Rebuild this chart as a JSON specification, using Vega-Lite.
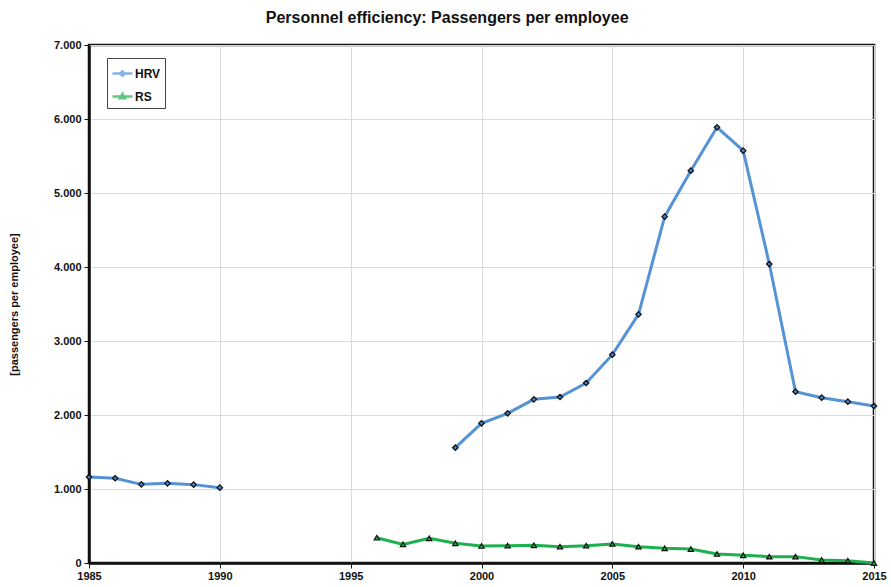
{
  "$schema": "https://vega.github.io/schema/vega-lite/v6.json",
  "width": 785,
  "height": 518,
  "autosize": {"type": "none"},
  "padding": {"left": 89, "top": 45, "right": 17, "bottom": 24},
  "background": "white",
  "title": {
    "text": "Personnel efficiency: Passengers per employee",
    "font": "Liberation Sans",
    "fontSize": 16,
    "fontWeight": "bold",
    "color": "#111",
    "anchor": "middle",
    "frame": "bounds",
    "offset": 13
  },
  "data": {
    "values": [
      {"year": 1985, "value": 1162, "series": "HRV", "seg": "a"},
      {"year": 1986, "value": 1145, "series": "HRV", "seg": "a"},
      {"year": 1987, "value": 1063, "series": "HRV", "seg": "a"},
      {"year": 1988, "value": 1077, "series": "HRV", "seg": "a"},
      {"year": 1989, "value": 1059, "series": "HRV", "seg": "a"},
      {"year": 1990, "value": 1018, "series": "HRV", "seg": "a"},
      {"year": 1999, "value": 1558, "series": "HRV", "seg": "b"},
      {"year": 2000, "value": 1888, "series": "HRV", "seg": "b"},
      {"year": 2001, "value": 2023, "series": "HRV", "seg": "b"},
      {"year": 2002, "value": 2212, "series": "HRV", "seg": "b"},
      {"year": 2003, "value": 2243, "series": "HRV", "seg": "b"},
      {"year": 2004, "value": 2432, "series": "HRV", "seg": "b"},
      {"year": 2005, "value": 2815, "series": "HRV", "seg": "b"},
      {"year": 2006, "value": 3360, "series": "HRV", "seg": "b"},
      {"year": 2007, "value": 4680, "series": "HRV", "seg": "b"},
      {"year": 2008, "value": 5302, "series": "HRV", "seg": "b"},
      {"year": 2009, "value": 5888, "series": "HRV", "seg": "b"},
      {"year": 2010, "value": 5572, "series": "HRV", "seg": "b"},
      {"year": 2011, "value": 4040, "series": "HRV", "seg": "b"},
      {"year": 2012, "value": 2315, "series": "HRV", "seg": "b"},
      {"year": 2013, "value": 2234, "series": "HRV", "seg": "b"},
      {"year": 2014, "value": 2180, "series": "HRV", "seg": "b"},
      {"year": 2015, "value": 2122, "series": "HRV", "seg": "b"},
      {"year": 1996, "value": 342, "series": "RS", "seg": "c"},
      {"year": 1997, "value": 252, "series": "RS", "seg": "c"},
      {"year": 1998, "value": 333, "series": "RS", "seg": "c"},
      {"year": 1999, "value": 266, "series": "RS", "seg": "c"},
      {"year": 2000, "value": 230, "series": "RS", "seg": "c"},
      {"year": 2001, "value": 234, "series": "RS", "seg": "c"},
      {"year": 2002, "value": 239, "series": "RS", "seg": "c"},
      {"year": 2003, "value": 221, "series": "RS", "seg": "c"},
      {"year": 2004, "value": 234, "series": "RS", "seg": "c"},
      {"year": 2005, "value": 258, "series": "RS", "seg": "c"},
      {"year": 2006, "value": 221, "series": "RS", "seg": "c"},
      {"year": 2007, "value": 198, "series": "RS", "seg": "c"},
      {"year": 2008, "value": 189, "series": "RS", "seg": "c"},
      {"year": 2009, "value": 122, "series": "RS", "seg": "c"},
      {"year": 2010, "value": 104, "series": "RS", "seg": "c"},
      {"year": 2011, "value": 86, "series": "RS", "seg": "c"},
      {"year": 2012, "value": 86, "series": "RS", "seg": "c"},
      {"year": 2013, "value": 41, "series": "RS", "seg": "c"},
      {"year": 2014, "value": 32, "series": "RS", "seg": "c"},
      {"year": 2015, "value": 0, "series": "RS", "seg": "c"}
    ]
  },
  "encoding": {
    "x": {
      "field": "year",
      "type": "quantitative",
      "scale": {"domain": [1985, 2015], "nice": false, "zero": false},
      "axis": {
        "title": null,
        "values": [1985, 1990, 1995, 2000, 2005, 2010, 2015],
        "format": "d",
        "labelFlush": false,
        "labelOverlap": false,
        "labelPadding": 2
      }
    },
    "y": {
      "field": "value",
      "type": "quantitative",
      "scale": {"domain": [0, 7000], "nice": false},
      "axis": {
        "title": "[passengers per employee]",
        "titleFont": "Liberation Sans",
        "titleFontSize": 11,
        "titleFontWeight": "bold",
        "titleColor": "#111",
        "titleX": -75,
        "titleY": 259,
        "titleAlign": "center",
        "titleBaseline": "middle",
        "titleAngle": -90,
        "values": [0, 1000, 2000, 3000, 4000, 5000, 6000, 7000],
        "labelExpr": "replace(format(datum.value, ','), ',', '.')",
        "labelPadding": 3
      }
    }
  },
  "layer": [
    {
      "mark": {"type": "line", "strokeWidth": 3},
      "encoding": {
        "color": {
          "field": "series",
          "type": "nominal",
          "scale": {"domain": ["HRV", "RS"], "range": ["#5592d6", "#1db04e"]},
          "legend": {
            "title": null,
            "orient": "none",
            "legendX": 18,
            "legendY": 13,
            "symbolSize": 400,
            "symbolStrokeWidth": 2.5,
            "labelFont": "Liberation Sans",
            "labelFontSize": 12,
            "labelFontWeight": "bold",
            "labelColor": "#111",
            "labelOffset": 1,
            "rowPadding": 4,
            "padding": 4,
            "strokeColor": "#444",
            "fillColor": "white"
          }
        },
        "detail": {"field": "seg"}
      }
    },
    {
      "transform": [{"filter": "datum.series == 'HRV'"}],
      "mark": {"type": "point", "shape": "diamond", "filled": true, "fill": "#4a7fc0", "stroke": "#111", "strokeWidth": 1.2, "size": 30, "opacity": 1}
    },
    {
      "transform": [{"filter": "datum.series == 'RS'"}],
      "mark": {"type": "point", "shape": "triangle-up", "filled": true, "fill": "#1db04e", "stroke": "#111", "strokeWidth": 1.2, "size": 28, "opacity": 1}
    },
    {
      "transform": [{"filter": "false"}],
      "mark": {"type": "point", "filled": false, "strokeWidth": 2.5},
      "encoding": {
        "color": {"field": "series", "type": "nominal"},
        "shape": {
          "field": "series",
          "type": "nominal",
          "scale": {
            "domain": ["HRV", "RS"],
            "range": [
              "M-1,0H1M0,-0.22L0.22,0L0,0.22L-0.22,0Z",
              "M-1,0H1M0,-0.25L0.25,0.17L-0.25,0.17Z"
            ]
          },
          "legend": {
            "title": null,
            "orient": "none",
            "legendX": 18,
            "legendY": 13,
            "symbolSize": 400,
            "symbolStrokeWidth": 2.5,
            "labelFont": "Liberation Sans",
            "labelFontSize": 12,
            "labelFontWeight": "bold",
            "labelColor": "#111",
            "labelOffset": 1,
            "rowPadding": 4,
            "padding": 4,
            "strokeColor": "#444",
            "fillColor": "white"
          }
        }
      }
    }
  ],
  "config": {
    "view": {"stroke": "#111", "strokeWidth": 2.5},
    "axis": {
      "labelFont": "Liberation Sans",
      "labelFontSize": 11,
      "labelFontWeight": "bold",
      "labelColor": "#111",
      "gridColor": "#dadada",
      "gridWidth": 1,
      "domainColor": "#111",
      "domainWidth": 2.5,
      "tickColor": "#111",
      "tickSize": 5,
      "tickWidth": 1
    }
  }
}
